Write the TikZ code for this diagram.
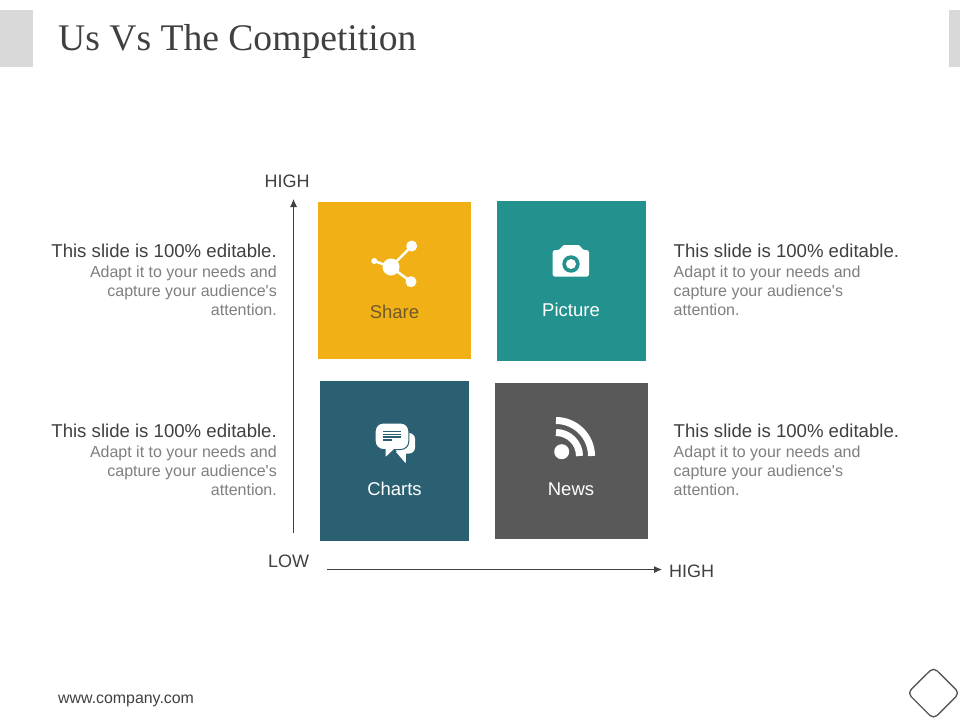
\documentclass[tikz,border=0pt]{standalone}
\usepackage{fontspec}
\setmainfont{Liberation Sans}
\newfontfamily\titlefont{Liberation Serif}
\usetikzlibrary{arrows.meta}
\definecolor{cyellow}{HTML}{F1B116}
\definecolor{cteal}{HTML}{23918D}
\definecolor{cblue}{HTML}{2B6073}
\definecolor{cgrey}{HTML}{595959}
\definecolor{cbar}{HTML}{D9D9D9}
\definecolor{ctext}{HTML}{404040}
\definecolor{cbody}{HTML}{7F7F7F}
\definecolor{cshare}{HTML}{6E5A2A}
\newcommand{\blurb}{Adapt it to your needs and\\capture your audience\textquotesingle s\\attention.}
\tikzset{
  x=1pt,y=-1pt,
  lab/.style={font=\fontsize{18.5}{20}\selectfont,inner sep=0pt},
  axislab/.style={font=\fontsize{18}{20}\selectfont,text=ctext,inner sep=0pt},
  headl/.style={font=\fontsize{18.6}{20}\selectfont,text=ctext,inner sep=0pt,anchor=base east},
  headr/.style={font=\fontsize{18.6}{20}\selectfont,text=ctext,inner sep=0pt,anchor=base west},
  bodyl/.style={font=\fontsize{16}{19}\selectfont,text=cbody,inner sep=0pt,anchor=base east,align=right},
  bodyr/.style={font=\fontsize{16}{19}\selectfont,text=cbody,inner sep=0pt,anchor=base west,align=left},
  axisline/.style={draw=ctext,line width=0.9pt,-{Latex[length=8pt,width=7pt]}},
}
\begin{document}
\begin{tikzpicture}
\useasboundingbox (0,0) rectangle (960,720);
\fill[white] (0,0) rectangle (960,720);
% side bars
\fill[cbar] (0,10) rectangle (33,67);
\fill[cbar] (949,10) rectangle (960,67);
% title
\node[anchor=base west,inner sep=0pt,text=ctext,font=\titlefont\fontsize{37.6}{40}\selectfont] (title) at (58,50) {Us Vs The Competition};
% tiles
\fill[cyellow] (318,202) rectangle (471,359);
\fill[cteal] (497,201) rectangle (646,361);
\fill[cblue] (320,381) rectangle (469,541);
\fill[cgrey] (495,383) rectangle (648,539);
% tile labels
\node[lab,text=cshare] (share) at (394.5,312) {Share};
\node[lab,text=white] (picture) at (571,309.5) {Picture};
\node[lab,text=white] (charts) at (394.5,489) {Charts};
\node[lab,text=white] (news) at (571,489) {News};
% share icon
\begin{scope}[white]
\draw[line width=2.5pt] (391,267) -- (411.7,246) (391,267) -- (411,281.7);
\draw[line width=2.5pt] (391,267) -- (374.3,261);
\fill (391,267) circle[radius=8.5];
\fill (411.7,246) circle[radius=5.5];
\fill (411,281.7) circle[radius=5.5];
\fill (374.3,261) circle[radius=3];
\end{scope}
% camera icon
\fill[white,rounded corners=2.5pt] (552.7,276.7) -- (552.7,250) -- (560,250) -- (562.5,245) -- (580,245) -- (582.5,250) -- (589,250) -- (589,276.7) -- cycle;
\fill[cteal] (571,264) circle[radius=8.7];
\fill[white] (571,264) circle[radius=5];
% charts icon
\fill[white,rounded corners=6pt] (395,433) -- (415,433) -- (415,453.5) -- (395,453.5) -- cycle;
\fill[white] (396,452) -- (405.7,463.3) -- (406,452) -- cycle;
\draw[cblue,line width=1pt,rounded corners=8pt,fill=white] (375.2,423) -- (408.8,423) -- (408.8,449.5) -- (375.2,449.5) -- cycle;
\fill[white] (385.7,447) -- (385.7,456.7) -- (396,447) -- cycle;
\draw[cblue,line width=1.2pt] (382.7,431.5) -- (401.3,431.5) (382.7,434.3) -- (401.3,434.3) (382.7,437) -- (401.3,437) (382.7,440) -- (391.5,440);
% rss icon
\fill[white] (561.7,451.7) circle[radius=7.5];
\draw[white,line width=7pt] (556,420.5) arc[start angle=-90,end angle=0,radius=35.5];
\draw[white,line width=7pt] (556,432.5) arc[start angle=-90,end angle=0,radius=23.5];
% axes
\coordinate (vstart) at (293.5,533);
\coordinate (vend) at (293.5,199);
\coordinate (hstart) at (327,569.5);
\coordinate (hend) at (662,569.5);
\draw[axisline] (vstart) -- (vend);
\draw[axisline] (hstart) -- (hend);
\node[axislab] (yhigh) at (287,181) {HIGH};
\node[axislab] (xlow) at (288.5,561) {LOW};
\node[axislab] (xhigh) at (691.5,571) {HIGH};
% text blocks
\node[headl] (h1) at (277,257.5) {This slide is 100\% editable.};
\node[bodyl] (b1) at (277,315.5) {\blurb};
\node[headr] (h2) at (673.5,257.5) {This slide is 100\% editable.};
\node[bodyr] (b2) at (673.5,315.5) {\blurb};
\node[headl] (h3) at (277,437.5) {This slide is 100\% editable.};
\node[bodyl] (b3) at (277,495.5) {\blurb};
\node[headr] (h4) at (673.5,437.5) {This slide is 100\% editable.};
\node[bodyr] (b4) at (673.5,495.5) {\blurb};
% footer
\node[anchor=base west,inner sep=0pt,text=ctext,font=\fontsize{15.9}{17}\selectfont] (web) at (58,703) {www.company.com};
\draw[draw=cgrey,line width=1.4pt,rounded corners=5pt] (933.5,667.3) -- (959.5,693) -- (933.5,719) -- (907.5,693) -- cycle;
\end{tikzpicture}
\end{document}
